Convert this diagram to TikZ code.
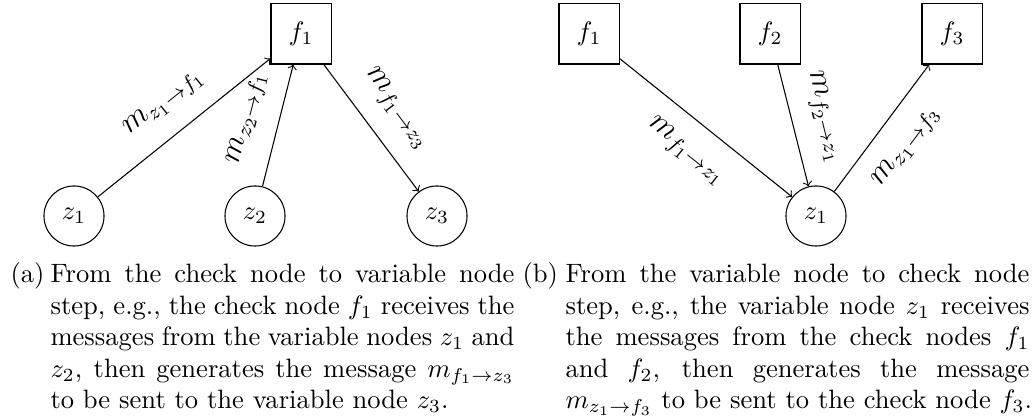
\documentclass[tikz,border=0pt]{standalone}
\begin{document}
\begin{tikzpicture}[x=0.3763pt, y=-0.3763pt,
  every node/.style={font=\fontsize{10}{11.8}\selectfont},
  var/.style={draw, circle, minimum size=22.6pt, inner sep=0pt},
  chk/.style={draw, rectangle, minimum size=22.6pt, inner sep=0pt},
  msg/.style={sloped, midway, font=\large},
  flow/.style={->},
  capnum/.style={anchor=base west, inner sep=0pt},
  captext/.style={anchor=base west, inner sep=0pt}]
\useasboundingbox (0,0) rectangle (1032,420);

% (a) check node to variable node
\node[var] (az1) at (74,216) {$z_1$};
\node[var] (az2) at (255,216) {$z_2$};
\node[var] (az3) at (437,216) {$z_3$};
\node[chk] (af1) at (301,34) {$f_1$};
\draw[flow] (az1) -- node[msg, above=4pt] {$m_{z_1\to f_1}$} (af1);
\draw[flow] (az2) -- node[msg, above=4pt] {$m_{z_2\to f_1}$} (af1);
\draw[flow] (af1) -- node[msg, above=4pt] {$m_{f_1\to z_3}$} (az3);

% (b) variable node to check node
\node[chk] (bf1) at (589,34) {$f_1$};
\node[chk] (bf2) at (770,34) {$f_2$};
\node[chk] (bf3) at (952,34) {$f_3$};
\node[var] (bz1) at (816,216) {$z_1$};
\draw[flow] (bf1) -- node[msg, below=4pt] {$m_{f_1\to z_1}$} (bz1);
\draw[flow] (bf2) -- node[msg, above=4pt] {$m_{f_2\to z_1}$} (bz1);
\draw[flow] (bz1) -- node[msg, below=4pt] {$m_{z_1\to f_3}$} (bf3);

% sub-captions
\node[capnum] (capa) at (10,283) {(a)};
\node[captext] (txta) at (50,283) {\vtop{%
  \hbox to 174.6pt{From the check node to variable node}
  \hbox to 174.6pt{step, e.g., the check node $f_1$ receives the}
  \hbox to 174.6pt{messages from the variable nodes $z_1$ and}
  \hbox to 174.6pt{$z_2$, then generates the message $m_{f_1\to z_3}$}
  \hbox{to be sent to the variable node $z_3$.}}};
\node[capnum] (capb) at (522,283) {(b)};
\node[captext] (txtb) at (565,283) {\vtop{%
  \hbox to 174.6pt{From the variable node to check node}
  \hbox to 174.6pt{step, e.g., the variable node $z_1$ receives}
  \hbox to 174.6pt{the messages from the check nodes $f_1$}
  \hbox to 174.6pt{and $f_2$, then generates the message}
  \hbox{$m_{z_1\to f_3}$ to be sent to the check node $f_3$.}}};
\end{tikzpicture}
\end{document}
